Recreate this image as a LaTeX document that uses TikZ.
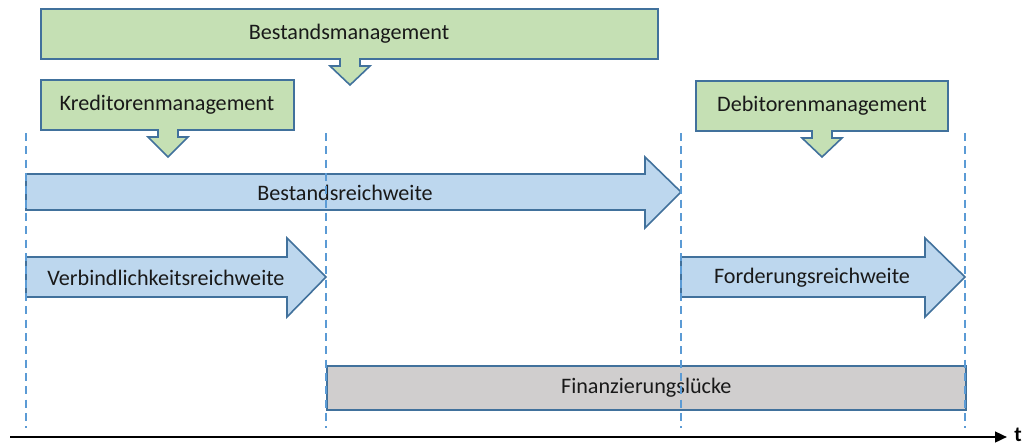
\documentclass[tikz,border=0pt]{standalone}
\usepackage{fontspec}
\setmainfont{Carlito}
\usetikzlibrary{arrows.meta}
\definecolor{boxgreen}{HTML}{C5E0B4}
\definecolor{boxblue}{HTML}{BDD7EE}
\definecolor{boxgray}{HTML}{D0CECE}
\definecolor{edgeblue}{HTML}{41719C}
\definecolor{guideblue}{HTML}{5B9BD5}
\tikzset{
  mgmt/.style={fill=boxgreen, draw=edgeblue, line width=1.2pt, line join=miter},
  span/.style={fill=boxblue, draw=edgeblue, line width=1.2pt, line join=miter},
  gap/.style={fill=boxgray, draw=edgeblue, line width=1.2pt},
  guide/.style={draw=guideblue, line width=1.3pt, dash pattern=on 6pt off 4pt},
  lbl/.style={font=\fontsize{16.6}{19}\selectfont, inner sep=0pt, text=black!90},
}
\begin{document}
\begin{tikzpicture}[x=0.75pt, y=-0.75pt]
\useasboundingbox (0,0) rectangle (1027,446);

% management boxes with down-pointing callouts
\draw[mgmt] (41,9) -- (658,9) -- (658,59) -- (360,59) -- (360,66) -- (370,66)
  -- (350,85) -- (330,66) -- (340,66) -- (340,59) -- (41,59) -- cycle;
\node[lbl] (bm) at (349,34) {Bestandsmanagement};

\draw[mgmt] (41,80) -- (294,80) -- (294,130) -- (178,130) -- (178,137) -- (188,137)
  -- (168,157) -- (148,137) -- (158,137) -- (158,130) -- (41,130) -- cycle;
\node[lbl] (km) at (167,105) {Kreditorenmanagement};

\draw[mgmt] (696,81) -- (948,81) -- (948,131) -- (832,131) -- (832,138) -- (842,138)
  -- (822,157) -- (802,138) -- (812,138) -- (812,131) -- (696,131) -- cycle;
\node[lbl] (dm) at (822,106) {Debitorenmanagement};

% range arrows
\draw[span] (26,174) -- (645,174) -- (645,157) -- (681,192) -- (645,228)
  -- (645,210) -- (26,210) -- cycle;
\node[lbl] (br) at (345,193) {Bestandsreichweite};

\draw[span] (26,257) -- (287,257) -- (287,238) -- (326,277) -- (287,317)
  -- (287,297) -- (26,297) -- cycle;
\node[lbl] (vr) at (166,278) {Verbindlichkeitsreichweite};

\draw[span] (681,257) -- (925,257) -- (925,238) -- (965,277) -- (925,317)
  -- (925,297) -- (681,297) -- cycle;
\node[lbl] (fr) at (812,278) {Forderungsreichweite};

% financing gap
\node[gap, minimum width=639*0.75pt, minimum height=44*0.75pt, anchor=north west,
  inner sep=0pt] (fl) at (326,365) {};
\node[lbl] (fltext) at (fl.center) {Finanzierungslücke};

% phase boundaries, drawn over the bars
\foreach \gx/\gn in {26/g1, 326/g2, 681/g3, 965/g4} {
  \coordinate (\gn top) at (\gx,133);
  \coordinate (\gn bot) at (\gx,428);
}
\draw[guide] (g1top) -- (g1bot);
\draw[guide] (g2top) -- (g2bot);
\draw[guide] (g3top) -- (g3bot);
\draw[guide] (g4top) -- (g4bot);

% time axis
\coordinate (t0) at (10,437);
\coordinate (t1) at (1007,437);
\draw[line width=1.8pt, -{Triangle[length=9pt, width=8pt]}] (t0) -- (t1);
\node[font=\fontsize{16}{19}\selectfont\bfseries, inner sep=0pt, anchor=base]
  (tl) at (1018,441) {t};
\end{tikzpicture}
\end{document}
